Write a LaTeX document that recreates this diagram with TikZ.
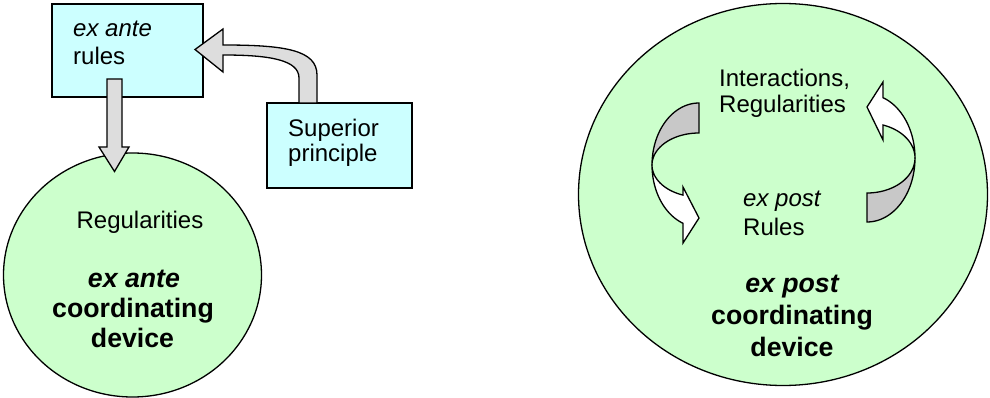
\documentclass[tikz,border=0pt]{standalone}
\usepackage{fontspec}
\setmainfont{Liberation Sans}
\usetikzlibrary{shapes.geometric}
\definecolor{boxcyan}{HTML}{CCFFFF}
\definecolor{circgreen}{HTML}{CCFFCC}
\definecolor{arrowgray}{HTML}{DDDDDD}
\definecolor{ribgray}{HTML}{C8C8C8}
\begin{document}
\begin{tikzpicture}[x=1pt,y=-1pt,
  outl/.style={draw=black,line width=1.3pt,line join=miter},
  box/.style={outl,fill=boxcyan,rectangle,inner sep=0pt},
  circ/.style={outl,fill=circgreen,ellipse,inner sep=0pt},
  txt/.style={inner sep=0pt,font=\fontsize{24}{28}\selectfont},
  btxt/.style={inner sep=0pt,font=\fontsize{26.7}{32}\selectfont\bfseries},
]
\useasboundingbox (0,0) rectangle (990,398);

% circles
\node[circ, minimum width=258pt, minimum height=244pt] (lc) at (132.5,275) {};
\node[circ, minimum width=409pt, minimum height=382pt] (rc) at (783,194.5) {};

% boxes
\node[box, minimum width=151pt, minimum height=93pt] (rulesbox) at (127.5,50.5) {};
\node[box, minimum width=145pt, minimum height=85pt] (supbox) at (339.5,145.5) {};

% down block arrow from rules box to left circle
\draw[outl, fill=arrowgray] (107,79) -- (122,79) -- (122,147) -- (129,147) -- (114.5,171.5) -- (99,147) -- (107,147) -- cycle;

% curved block arrow from superior box to rules box
\draw[outl, fill=arrowgray] (299,103) -- (299,78) .. controls (299,60) and (270,55) .. (223,55)
  -- (223,72) -- (195,49.5) -- (223,29) -- (223,45)
  .. controls (285,45) and (317,50) .. (317,75) -- (317,103) -- cycle;

% left ribbon arrow
\draw[outl, fill=ribgray] plot[domain=90:180, samples=40] ({699+47*cos(\x)},{165-62*sin(\x)})
  -- plot[domain=180:90, samples=40] ({699+47*cos(\x)},{165-32*sin(\x)}) -- cycle;
\draw[outl, fill=white] plot[domain=180:250, samples=40] ({699+47*cos(\x)},{165-62*sin(\x)})
  -- (683,243) -- (699,218) -- (683,187)
  -- plot[domain=250:180, samples=40] ({699+47*cos(\x)},{165-32*sin(\x)}) -- cycle;

% right ribbon arrow
\draw[outl, fill=ribgray] plot[domain=270:360, samples=40] ({867+48*cos(\x)},{158-64*sin(\x)})
  -- plot[domain=360:270, samples=40] ({867+48*cos(\x)},{158-35*sin(\x)}) -- cycle;
\draw[outl, fill=white] plot[domain=0:70.5, samples=40] ({867+48*cos(\x)},{158-64*sin(\x)})
  -- (883,82) -- (867,107) -- (883,140)
  -- plot[domain=70.5:0, samples=40] ({867+48*cos(\x)},{158-35*sin(\x)}) -- cycle;

% texts: rules box
\node[txt, anchor=base west] (rA) at (73,37) {\itshape ex ante};
\node[txt, anchor=base west] (rB) at (73,65) {rules};
% superior box
\node[txt, anchor=base west] (sA) at (288,137) {Superior};
\node[txt, anchor=base west] (sB) at (288,162) {principle};
% left circle
\node[txt, anchor=base] (lA) at (140,229) {Regularities};
\node[btxt, anchor=base] (lB) at (134,287) {\itshape ex ante};
\node[btxt, anchor=base] (lC) at (133,317) {coordinating};
\node[btxt, anchor=base] (lD) at (132.5,347) {device};
% right circle
\node[txt, anchor=base west] (iA) at (719,87) {Interactions,};
\node[txt, anchor=base west] (iB) at (719,113) {Regularities};
\node[txt, anchor=base west] (pA) at (743,207) {\itshape ex post};
\node[txt, anchor=base west] (pB) at (743,235) {Rules};
\node[btxt, anchor=base] (rcA) at (792,292) {\itshape ex post};
\node[btxt, anchor=base] (rcB) at (792,324) {coordinating};
\node[btxt, anchor=base] (rcC) at (792,356) {device};
\end{tikzpicture}
\end{document}
